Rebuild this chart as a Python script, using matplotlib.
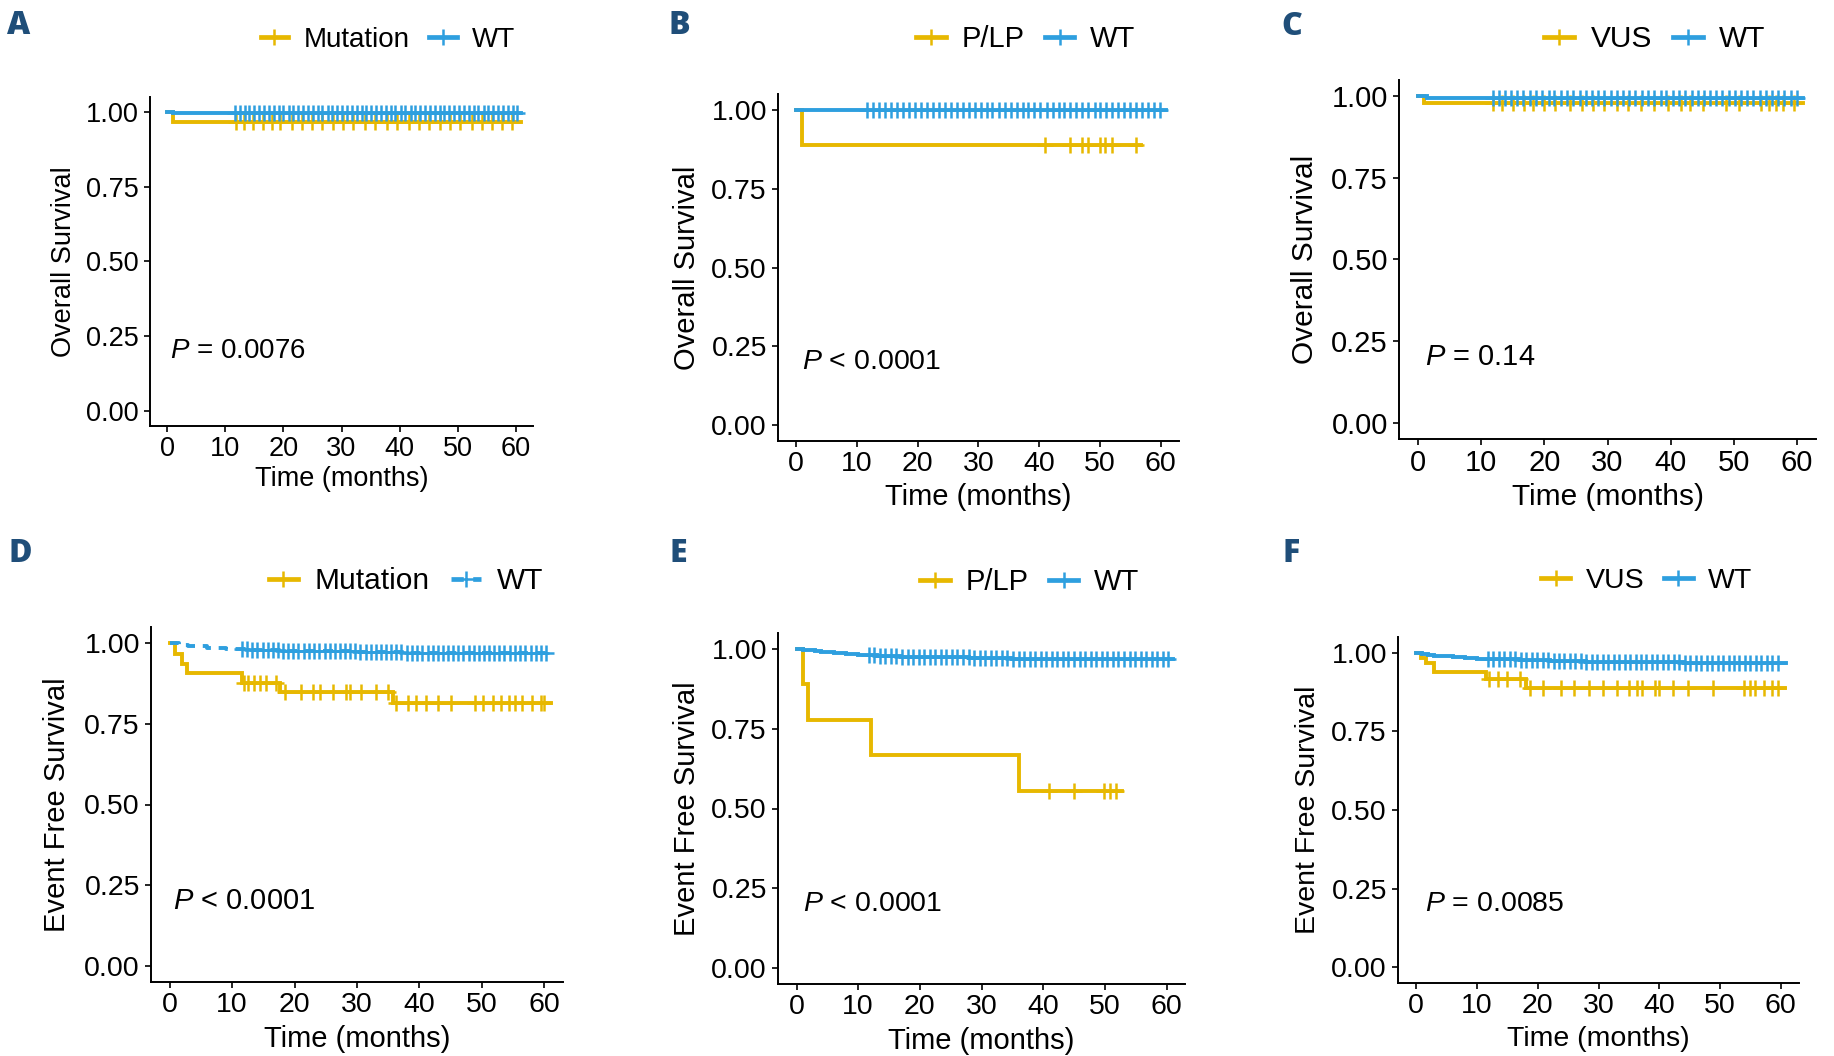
import numpy as np
import matplotlib
matplotlib.use("Agg")
import matplotlib.pyplot as plt
from matplotlib.lines import Line2D

plt.rcParams['font.family'] = ['Liberation Sans', 'DejaVu Sans']
plt.rcParams['mathtext.fontset'] = 'custom'
plt.rcParams['mathtext.it'] = 'Liberation Sans:italic'
plt.rcParams['mathtext.rm'] = 'Liberation Sans'

# ---- data (KM step times / survival, censor times, last follow-up) ----
# A: overall survival, Mutation vs WT
a_mut_t = [0, 1.0]
a_mut_s = [1.0, 0.967]
a_mut_cens = [11.9, 13.2, 14.7, 16.4, 18.1, 19.4, 21.5, 23.2, 24.9, 26.6, 28.6, 30.3, 32.0, 34.1,
              35.8, 37.8, 39.5, 41.6, 43.3, 45.0, 47.0, 48.7, 50.4, 52.5, 54.2, 55.9, 57.6, 59.3]
a_mut_end = 61.0
a_wt_t = [0, 1.0]
a_wt_s = [1.0, 0.996]
a_wt_cens = [11.6, 12.5, 13.3, 14.1, 15.0, 15.8, 16.7, 17.5, 18.3, 19.2, 20.0, 20.9, 21.7, 22.5,
             23.4, 24.2, 25.1, 25.9, 26.7, 27.6, 28.4, 29.3, 30.1, 30.9, 31.8, 32.6, 33.5, 34.3,
             35.1, 36.0, 36.8, 37.7, 38.5, 39.3, 40.2, 41.0, 41.9, 42.7, 43.5, 44.4, 45.2, 46.1,
             46.9, 47.7, 48.6, 49.4, 50.3, 51.1, 51.9, 52.8, 53.6, 54.5, 55.3, 56.1, 57.0, 57.8,
             58.7, 59.5, 60.3]
a_wt_end = 61.0

# B: overall survival, P/LP vs WT
b_plp_t = [0, 1.0]
b_plp_s = [1.0, 0.889]
b_plp_cens = [40.9, 45.0, 47.1, 48.0, 50.0, 50.9, 52.0, 56.0]
b_plp_end = 56.8
b_wt_t = [0, 1.0]
b_wt_s = [1.0, 0.998]
b_wt_cens = [11.7, 12.7, 13.7, 14.6, 15.6, 16.6, 17.6, 18.6, 19.6, 20.5, 21.5, 22.5, 23.5, 24.5,
             25.5, 26.4, 27.4, 28.4, 29.4, 30.4, 31.4, 32.3, 33.3, 34.3, 35.3, 36.3, 37.3, 38.2,
             39.2, 40.2, 41.2, 42.2, 43.2, 44.1, 45.1, 46.1, 47.1, 48.1, 49.1, 50.0, 51.0, 52.0,
             53.0, 54.0, 55.0, 55.9, 56.9, 57.9, 58.9, 59.9]
b_wt_end = 60.9

# C: overall survival, VUS vs WT
c_vus_t = [0, 1.0]
c_vus_s = [1.0, 0.980]
c_vus_cens = [11.8, 13.3, 15.0, 16.8, 18.2, 20.0, 21.7, 24.0, 26.0, 27.7, 29.5, 31.5, 33.2, 35.3,
              37.3, 39.6, 41.6, 43.0, 45.1, 48.8, 50.8, 54.3, 55.5, 56.6, 57.8, 59.5]
c_vus_end = 61.0
c_wt_t = [0, 1.5]
c_wt_s = [1.0, 0.994]
c_wt_cens = [11.8, 12.8, 13.8, 14.8, 15.7, 16.7, 17.7, 18.7, 19.7, 20.7, 21.6, 22.6, 23.6, 24.6,
             25.6, 26.6, 27.5, 28.5, 29.5, 30.5, 31.5, 32.5, 33.4, 34.4, 35.4, 36.4, 37.4, 38.4,
             39.3, 40.3, 41.3, 42.3, 43.3, 44.3, 45.2, 46.2, 47.2, 48.2, 49.2, 50.2, 51.1, 52.1,
             53.1, 54.1, 55.1, 56.1, 57.0, 58.0, 59.0, 60.0]
c_wt_end = 61.0

# D: event free survival, Mutation vs WT
d_mut_t = [0, 0.8, 1.9, 2.8, 11.5, 17.6, 35.8]
d_mut_s = [1.0, 0.966, 0.935, 0.906, 0.875, 0.849, 0.813]
d_mut_cens = [11.9, 12.6, 13.5, 14.4, 15.4, 17.0, 18.5, 21.0, 23.0, 24.0, 26.2, 28.2, 28.8, 30.6,
              33.1, 35.0, 36.3, 38.2, 39.4, 41.0, 42.9, 45.1, 48.9, 50.2, 51.8, 53.0, 54.3, 55.3,
              56.5, 58.1, 59.4, 60.0]
d_mut_end = 61.0
d_wt_t = [0, 1.5, 3.0, 6.0, 9.0, 13.0, 18.0, 24.0, 30.0, 38.0, 46.0]
d_wt_s = [1.0, 0.995, 0.990, 0.986, 0.983, 0.980, 0.977, 0.975, 0.972, 0.970, 0.968]
d_wt_cens = [11.6, 12.4, 13.2, 14.0, 14.9, 15.7, 16.5, 17.3, 18.2, 19.0, 19.8, 20.6, 21.5, 22.3,
             23.1, 23.9, 24.8, 25.6, 26.4, 27.2, 28.1, 28.9, 29.7, 30.5, 31.4, 32.2, 33.0, 33.8,
             34.7, 35.5, 36.3, 37.1, 38.0, 38.8, 39.6, 40.4, 41.3, 42.1, 42.9, 43.7, 44.6, 45.4,
             46.2, 47.0, 47.9, 48.7, 49.5, 50.3, 51.2, 52.0, 52.8, 53.6, 54.5, 55.3, 56.1, 56.9,
             57.8, 58.6, 59.4, 60.2]
d_wt_end = 61.0

# E: event free survival, P/LP vs WT
e_plp_t = [0, 1.0, 1.9, 12.0, 36.0]
e_plp_s = [1.0, 0.889, 0.778, 0.667, 0.556]
e_plp_cens = [40.9, 45.0, 49.9, 50.8, 51.8]
e_plp_end = 52.8
e_wt_t = [0, 1, 2, 3, 4, 5, 6, 7, 8, 10, 13, 17, 22, 28, 35, 45]
e_wt_s = [1.0, 0.998, 0.996, 0.994, 0.992, 0.990, 0.988, 0.986, 0.984, 0.982, 0.979, 0.976,
          0.974, 0.972, 0.970, 0.968]
e_wt_cens = [11.7, 12.6, 13.5, 14.4, 15.3, 16.2, 17.1, 18.0, 18.9, 19.8, 20.7, 21.6, 22.5, 23.4,
             24.3, 25.2, 26.1, 27.0, 27.9, 28.8, 29.7, 30.6, 31.5, 32.4, 33.3, 34.2, 35.1, 36.0,
             36.9, 37.8, 38.7, 39.6, 40.5, 41.4, 42.3, 43.2, 44.1, 45.0, 45.9, 46.8, 47.7, 48.6,
             49.5, 50.4, 51.3, 52.2, 53.1, 54.0, 54.9, 55.8, 56.7, 57.6, 58.5, 59.4, 60.2]
e_wt_end = 61.0

# F: event free survival, VUS vs WT
f_vus_t = [0, 0.8, 1.6, 3.0, 11.5, 18.0]
f_vus_s = [1.0, 0.983, 0.966, 0.940, 0.918, 0.888]
f_vus_cens = [11.9, 13.4, 14.9, 17.0, 18.8, 20.9, 23.9, 26.0, 28.4, 30.8, 33.0, 35.0, 36.3, 37.2,
              39.3, 39.9, 42.3, 44.7, 48.9, 54.0, 55.0, 55.8, 57.3, 58.5, 59.5]
f_vus_end = 60.7
f_wt_t = [0, 1, 2, 3, 4, 6, 8, 10, 13, 17, 22, 28, 35, 44]
f_wt_s = [1.0, 0.997, 0.994, 0.991, 0.989, 0.986, 0.983, 0.981, 0.979, 0.976, 0.973, 0.971,
          0.969, 0.967]
f_wt_cens = [11.8, 12.7, 13.6, 14.5, 15.4, 16.3, 17.2, 18.1, 19.0, 19.9, 20.8, 21.7, 22.6, 23.5,
             24.4, 25.3, 26.2, 27.1, 28.0, 28.9, 29.8, 30.7, 31.6, 32.5, 33.4, 34.3, 35.2, 36.1,
             37.0, 37.9, 38.8, 39.7, 40.6, 41.5, 42.4, 43.3, 44.2, 45.1, 46.0, 46.9, 47.8, 48.7,
             49.6, 50.5, 51.4, 52.3, 53.2, 54.1, 55.0, 55.9, 56.8, 57.7, 58.6, 59.5]
f_wt_end = 60.8

group_labels = {'A': ['Mutation', 'WT'], 'B': ['P/LP', 'WT'], 'C': ['VUS', 'WT'],
                'D': ['Mutation', 'WT'], 'E': ['P/LP', 'WT'], 'F': ['VUS', 'WT']}
pvals = {'A': '= 0.0076', 'B': '< 0.0001', 'C': '= 0.14',
         'D': '< 0.0001', 'E': '< 0.0001', 'F': '= 0.0085'}
ylabels = {'A': 'Overall Survival', 'B': 'Overall Survival', 'C': 'Overall Survival',
           'D': 'Event Free Survival', 'E': 'Event Free Survival', 'F': 'Event Free Survival'}
x_ticks = [0, 10, 20, 30, 40, 50, 60]
y_ticks = [0.0, 0.25, 0.5, 0.75, 1.0]
y_ticklabels = ['0.00', '0.25', '0.50', '0.75', '1.00']

curves = {
    'A': [(a_mut_t, a_mut_s, a_mut_cens, a_mut_end), (a_wt_t, a_wt_s, a_wt_cens, a_wt_end)],
    'B': [(b_plp_t, b_plp_s, b_plp_cens, b_plp_end), (b_wt_t, b_wt_s, b_wt_cens, b_wt_end)],
    'C': [(c_vus_t, c_vus_s, c_vus_cens, c_vus_end), (c_wt_t, c_wt_s, c_wt_cens, c_wt_end)],
    'D': [(d_mut_t, d_mut_s, d_mut_cens, d_mut_end), (d_wt_t, d_wt_s, d_wt_cens, d_wt_end)],
    'E': [(e_plp_t, e_plp_s, e_plp_cens, e_plp_end), (e_wt_t, e_wt_s, e_wt_cens, e_wt_end)],
    'F': [(f_vus_t, f_vus_s, f_vus_cens, f_vus_end), (f_wt_t, f_wt_s, f_wt_cens, f_wt_end)],
}

COLORS = ['#E7B800', '#2E9FDF']
LETTER_COLOR = '#1F4E79'
W, H = 1834, 1056

# layout in figure pixels: axes box (left, right, top, bottom), label centres, legend centre, letter
layout = {
    'A': dict(box=(150, 533, 97, 426), tfs=19.5, lfs=19.5, gfs=20.0, pfs=20.0,
              ylab_x=64, xlab_y=479, leg=(388, 40), px=0.5, letter=(19, 26)),
    'B': dict(box=(778, 1179, 94, 441), tfs=20.5, lfs=21.0, gfs=21.0, pfs=20.5,
              ylab_x=687, xlab_y=497, leg=(1026, 39), px=1.0, letter=(679, 26)),
    'C': dict(box=(1399, 1816, 80, 439), tfs=21.0, lfs=21.5, gfs=21.5, pfs=21.0,
              ylab_x=1305, xlab_y=497, leg=(1655, 39), px=1.1, letter=(1292, 27)),
    'D': dict(box=(151, 563, 627, 982), tfs=20.5, lfs=21.0, gfs=21.5, pfs=21.0,
              ylab_x=57, xlab_y=1039, leg=(406, 581), px=0.6, letter=(20, 554)),
    'E': dict(box=(778, 1185, 633, 984), tfs=20.5, lfs=21.0, gfs=21.0, pfs=20.5,
              ylab_x=687, xlab_y=1041, leg=(1030, 582), px=1.1, letter=(678, 554)),
    'F': dict(box=(1398, 1799, 637, 983), tfs=20.5, lfs=20.5, gfs=20.5, pfs=20.5,
              ylab_x=1308, xlab_y=1039, leg=(1647, 581), px=1.5, letter=(1291, 554)),
}

LW = 2.8
MS = 11
MEW = 1.8

fig = plt.figure(figsize=(W / 100, H / 100), dpi=100)

for key in ['A', 'B', 'C', 'D', 'E', 'F']:
    lay = layout[key]
    l, r, t, b = lay['box']
    ax = fig.add_axes([l / W, 1 - b / H, (r - l) / W, (b - t) / H])

    handles = []
    for i, (times, surv, cens, end) in enumerate(curves[key]):
        ls = (0, (2.6, 2.0)) if (key == 'D' and i == 1) else '-'
        xs = list(times) + [end]
        ys = list(surv) + [surv[-1]]
        ax.step(xs, ys, where='post', color=COLORS[i], lw=LW, ls=ls,
                solid_joinstyle='miter', zorder=2 + i)
        idx = np.searchsorted(times, cens, side='right') - 1
        ax.plot(cens, np.array(surv)[idx], ls='none', marker='+', ms=MS, mew=MEW,
                color=COLORS[i], zorder=2 + i)
        handles.append(Line2D([], [], color=COLORS[i], lw=LW + 0.6, ls=ls, marker='+',
                              ms=MS, mew=MEW))

    ax.set_xlim(-3, 63)
    ax.set_ylim(-0.05, 1.05)
    ax.set_xticks(x_ticks)
    ax.set_yticks(y_ticks)
    ax.set_yticklabels(y_ticklabels)
    for side in ['top', 'right']:
        ax.spines[side].set_visible(False)
    for side in ['left', 'bottom']:
        ax.spines[side].set_linewidth(1.4)
        ax.spines[side].set_color('black')
    ax.tick_params(axis='both', length=4, width=1.2, color='black',
                   labelsize=lay['tfs'], labelcolor='black')
    ax.tick_params(axis='y', pad=4)
    ax.tick_params(axis='x', pad=3)

    ax.set_xlabel('Time (months)', fontsize=lay['lfs'])
    ax.set_ylabel(ylabels[key], fontsize=lay['lfs'])
    ax.xaxis.label.set_verticalalignment('center')
    ax.yaxis.label.set_verticalalignment('center')
    ax.yaxis.set_label_coords((lay['ylab_x'] - l) / (r - l), 0.5)
    ax.xaxis.set_label_coords(0.5, -(lay['xlab_y'] - b) / (b - t))

    ax.text(lay['px'], 0.2, r'$\mathit{P}$ ' + pvals[key], fontsize=lay['pfs'],
            ha='left', va='center')

    cx, cy = lay['leg']
    fig.legend(handles, group_labels[key], loc='center',
               bbox_to_anchor=(cx / W, 1 - cy / H), ncol=2, frameon=False,
               fontsize=lay['gfs'], handlelength=1.0, handletextpad=0.55,
               columnspacing=0.7, borderpad=0, borderaxespad=0)

    lx, ly = lay['letter']
    fig.text(lx / W, 1 - ly / H, key, fontsize=23, fontweight='heavy',
             family=['Open Sans', 'DejaVu Sans'], color=LETTER_COLOR,
             ha='center', va='center')

fig.savefig('out.png', dpi=100, facecolor='white')
